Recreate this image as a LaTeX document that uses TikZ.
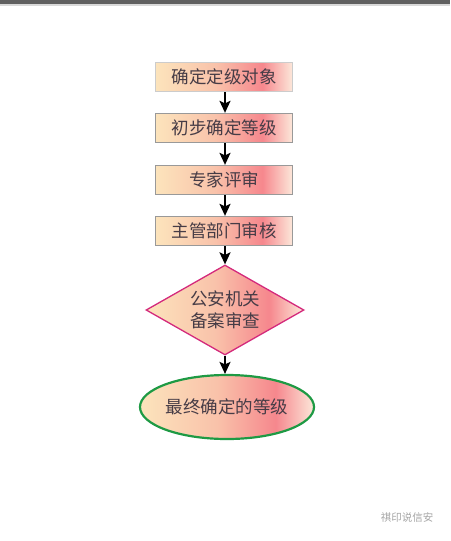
\documentclass[tikz,border=0pt]{standalone}
\usepackage{fontspec}
\newfontfamily\cjk{Noto Sans CJK SC}
\usetikzlibrary{shapes.geometric,arrows.meta}
\definecolor{cpeach}{HTML}{FCE4BC}
\definecolor{cmid}{HTML}{F9C2AA}
\definecolor{cpink}{HTML}{F6878D}
\definecolor{cpale}{HTML}{FCE8DA}
\definecolor{ctext}{HTML}{463C46}
\definecolor{cdia}{HTML}{D42A7C}
\definecolor{cell}{HTML}{1E9A44}
\pgfdeclarehorizontalshading{boxgrad}{100bp}{color(0bp)=(cpeach); color(25bp)=(cpeach); color(47bp)=(cmid); color(64bp)=(cpink); color(75bp)=(cpale); color(100bp)=(cpale)}
\tikzset{
  stepbox/.style={draw=gray!80, line width=1.3pt, shading=boxgrad, minimum width=137pt, minimum height=29pt, inner sep=0pt, font=\cjk\fontsize{17.5}{19}\selectfont, text=ctext},
  decbox/.style={diamond, draw=cdia, line width=1.3pt, shading=boxgrad, minimum width=158pt, minimum height=90pt, inner sep=0pt, aspect=1.75, align=center, font=\cjk\fontsize{17.5}{22}\selectfont, text=ctext},
  endbox/.style={ellipse, draw=cell, line width=2.2pt, shading=boxgrad, minimum width=174pt, minimum height=64pt, inner sep=0pt, font=\cjk\fontsize{17.5}{19}\selectfont, text=ctext},
  flowarrow/.style={-{Stealth[length=12pt,width=11pt,inset=2.5pt]}, line width=1.8pt, black}
}
\begin{document}
\begin{tikzpicture}[x=1pt,y=-1pt]
\useasboundingbox (0,0) rectangle (450,541);
\fill[white] (0,0) rectangle (450,541);
\fill[gray!75!black] (0,0) rectangle (450,4);
\fill[gray!30] (0,4) rectangle (450,5.5);
\coordinate (ax) at (225,0);
\node[stepbox, draw=gray!40] (s1) at (224,77) {确定定级对象};
\node[stepbox] (s2) at (224,128) {初步确定等级};
\node[stepbox] (s3) at (224,180) {专家评审};
\node[stepbox] (s4) at (224,231) {主管部门审核};
\node[decbox] (d) at (225,310) {公安机关\\备案审查};
\node[endbox] (e) at (227,407) {最终确定的等级};
\draw[flowarrow] (s1.south -| ax) -- (s2.north -| ax);
\draw[flowarrow] (s2.south -| ax) -- (s3.north -| ax);
\draw[flowarrow] (s3.south -| ax) -- (s4.north -| ax);
\draw[flowarrow] (s4.south -| ax) -- (d.north);
\draw[flowarrow] (d.south) -- (e.north -| ax);
\node[font=\cjk\fontsize{10.5}{12}\selectfont, text=gray!70] (wm) at (407,518) {祺印说信安};
\end{tikzpicture}
\end{document}
